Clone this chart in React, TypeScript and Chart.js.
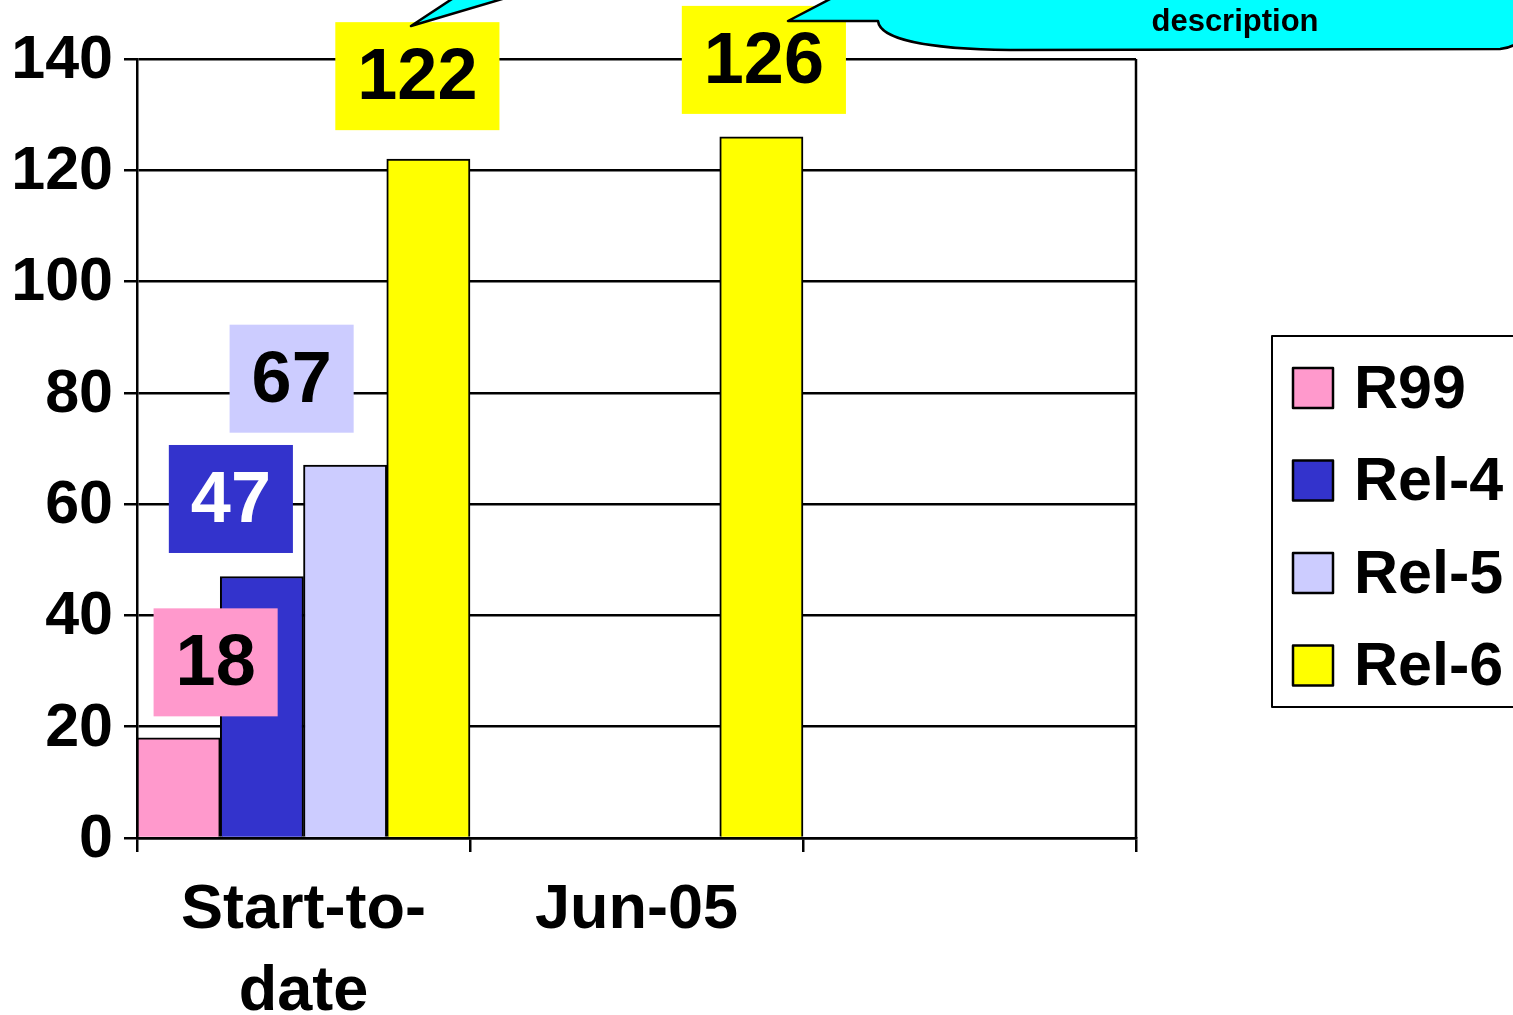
import React, { useEffect, useRef } from "react";
import { Chart, registerables } from "chart.js";

Chart.register(...registerables);

// ---- data ----
const categories: (string | string[])[] = [["Start-to-", "date"], "Jun-05", ""];
const seriesNames = ["R99", "Rel-4", "Rel-5", "Rel-6"];
const r99Values = [18, null, null];
const rel4Values = [47, null, null];
const rel5Values = [67, null, null];
const rel6Values = [122, 126, null];
const yMin = 0;
const yMax = 140;
const yStep = 20;
const calloutText = "description";

// ---- styles ----
const seriesColors = ["#FF99CC", "#3333CC", "#CCCCFF", "#FFFF00"];
const labelTextColors = ["#000000", "#FFFFFF", "#000000", "#000000"];
// label box centre offsets relative to each bar's top-centre (manually placed labels)
const labelOffsets: number[][][] = [
  [[37, -75.5]],
  [[-31, -77.5]],
  [[-53.5, -86.5]],
  [[-11, -83], [2.5, -77]],
];
const FONT = 'Arial, "Liberation Sans", Helvetica, sans-serif';

const decorPlugin = {
  id: "decor",
  afterDatasetsDraw(chart: any) {
    const ctx = chart.ctx;
    const ca = chart.chartArea;
    ctx.save();
    // right border of plot
    ctx.strokeStyle = "#000";
    ctx.lineWidth = 2.5;
    ctx.beginPath();
    ctx.moveTo(ca.right, ca.top);
    ctx.lineTo(ca.right, ca.bottom);
    ctx.stroke();

    // data labels
    ctx.font = `bold 72px ${FONT}`;
    chart.data.datasets.forEach((ds: any, i: number) => {
      const meta = chart.getDatasetMeta(i);
      meta.data.forEach((el: any, j: number) => {
        const v = ds.data[j];
        if (v === null || v === undefined) return;
        const off = (labelOffsets[i] && labelOffsets[i][j]) || [0, -60];
        const cx = el.x + off[0];
        const cy = el.y + off[1];
        const txt = String(v);
        const tw = ctx.measureText(txt).width;
        const w = tw + 44;
        const h = 108;
        ctx.fillStyle = seriesColors[i];
        ctx.fillRect(cx - w / 2, cy - h / 2, w, h);
        ctx.fillStyle = labelTextColors[i];
        ctx.textAlign = "center";
        ctx.textBaseline = "middle";
        ctx.fillText(txt, cx, cy + 3);
      });
    });
    ctx.restore();
  },
  afterDraw(chart: any) {
    const ctx = chart.ctx;
    ctx.save();
    ctx.lineJoin = "round";
    // callout 1 tail (bubble off-canvas)
    ctx.fillStyle = "#00FFFF";
    ctx.strokeStyle = "#000";
    ctx.lineWidth = 2.5;
    ctx.beginPath();
    ctx.moveTo(455, -3);
    ctx.lineTo(411, 26);
    ctx.lineTo(509, -3);
    ctx.closePath();
    ctx.fill();
    ctx.stroke();

    // callout 2
    ctx.beginPath();
    ctx.moveTo(834, -3);
    ctx.lineTo(788, 21);
    ctx.lineTo(878, 21);
    ctx.bezierCurveTo(880, 40, 930, 49, 1010, 50);
    ctx.lineTo(1500, 49);
    ctx.quadraticCurveTo(1513, 48, 1520, 40);
    ctx.lineTo(1520, -3);
    ctx.closePath();
    ctx.fill();
    ctx.stroke();
    ctx.fillStyle = "#000";
    ctx.font = `bold 31px ${FONT}`;
    ctx.textAlign = "center";
    ctx.textBaseline = "alphabetic";
    ctx.fillText(calloutText, 1235, 31);

    // legend
    const lx = 1272, ly = 336, lw = 270, lh = 371;
    ctx.fillStyle = "#FFFFFF";
    ctx.fillRect(lx, ly, lw, lh);
    ctx.strokeStyle = "#000";
    ctx.lineWidth = 2;
    ctx.strokeRect(lx, ly, lw, lh);
    chart.data.datasets.forEach((ds: any, i: number) => {
      const cy = 388 + i * 92.5;
      ctx.fillStyle = ds.backgroundColor;
      ctx.fillRect(1293, cy - 20, 40, 40);
      ctx.lineWidth = 2.5;
      ctx.strokeStyle = "#000";
      ctx.strokeRect(1293, cy - 20, 40, 40);
      ctx.fillStyle = "#000";
      ctx.font = `bold 61px ${FONT}`;
      ctx.textAlign = "left";
      ctx.textBaseline = "middle";
      ctx.fillText(ds.label, 1354, cy + 3);
    });
    ctx.restore();
  },
};

export default function App() {
  const canvasRef = useRef<HTMLCanvasElement | null>(null);

  useEffect(() => {
    if (!canvasRef.current) return;
    const seriesValues = [r99Values, rel4Values, rel5Values, rel6Values];
    const chart = new Chart(canvasRef.current, {
      type: "bar",
      data: {
        labels: categories as any,
        datasets: seriesNames.map((name, i) => ({
          label: name,
          data: seriesValues[i] as any,
          backgroundColor: seriesColors[i],
          borderColor: "#000000",
          borderWidth: 2,
          categoryPercentage: 1,
          barPercentage: 1,
        })),
      },
      options: {
        animation: false,
        responsive: true,
        maintainAspectRatio: false,
        devicePixelRatio: 1,
        layout: { padding: { top: 59, right: 377, bottom: 0, left: 0 } },
        plugins: {
          legend: { display: false },
          tooltip: { enabled: false },
          title: { display: false },
        },
        scales: {
          x: {
            afterFit: (s: any) => {
              s.height = 177;
            },
            grid: {
              display: true,
              drawOnChartArea: false,
              drawTicks: true,
              tickLength: 14,
              color: "#000",
              lineWidth: 2.5,
              offset: true,
            },
            border: { display: true, color: "#000", width: 2.5 },
            ticks: {
              color: "#000",
              padding: 18,
              maxRotation: 0,
              autoSkip: false,
              font: { family: FONT, size: 63, weight: "bold", lineHeight: 1.3 },
            },
          },
          y: {
            min: yMin,
            max: yMax,
            afterFit: (s: any) => {
              s.width = 137;
            },
            grid: {
              color: "#000",
              lineWidth: 2.5,
              drawTicks: true,
              tickLength: 13,
            },
            border: { display: true, color: "#000", width: 2.5 },
            ticks: {
              stepSize: yStep,
              color: "#000",
              padding: 11,
              labelOffset: 2,
              font: { family: FONT, size: 61, weight: "bold" },
            },
          },
        },
      },
      plugins: [decorPlugin],
    });
    return () => chart.destroy();
  }, []);

  return (
    <div
      style={{
        position: "fixed",
        left: 0,
        top: 0,
        width: 1513,
        height: 1015,
        background: "#fff",
      }}
    >
      <canvas ref={canvasRef} />
    </div>
  );
}
